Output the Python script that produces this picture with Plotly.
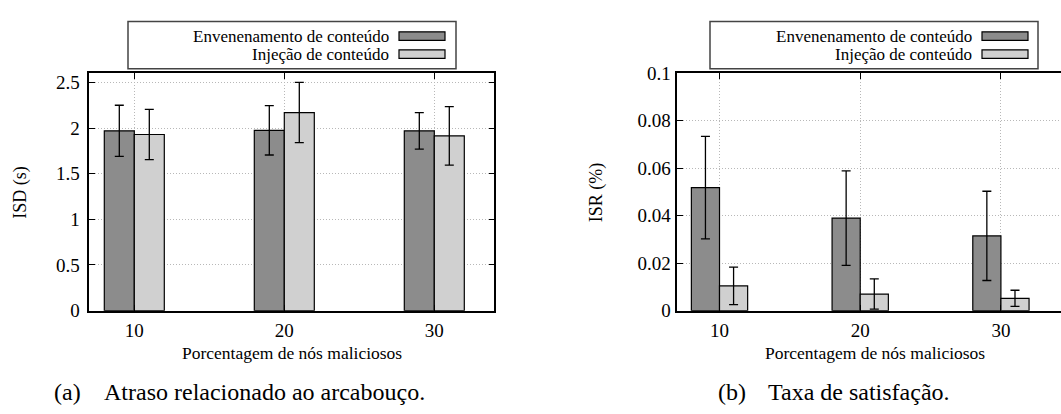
import plotly.graph_objects as go

# ---------------- data ----------------
categories = [10, 20, 30]
series_names = ["Envenenamento de conteúdo", "Injeção de conteúdo"]

isd_env = [1.97, 1.975, 1.97]
isd_env_err = [0.28, 0.27, 0.20]
isd_inj = [1.93, 2.17, 1.915]
isd_inj_err = [0.275, 0.33, 0.32]

isr_env = [0.0518, 0.039, 0.0315]
isr_env_err = [0.0216, 0.0199, 0.0188]
isr_inj = [0.0104, 0.007, 0.0052]
isr_inj_err = [0.0079, 0.0064, 0.0034]

x_title = "Porcentagem de nós maliciosos"
y_title_a = "ISD (s)"
y_title_b = "ISR (%)"
caption_a_tag, caption_a_text = "(a)", "Atraso relacionado ao arcabouço."
caption_b_tag, caption_b_text = "(b)", "Taxa de satisfação."

# ---------------- style ----------------
W, H = 1061, 414
FONT = "Liberation Serif"
DARK = "#8c8c8c"
LIGHT = "#d0d0d0"
GRID = "#b8b8b8"


def px(x):
    return x / W


def py(y):
    return 1 - y / H


fig = go.Figure()

for xa, ya, vals, errs in [
    ("x", "y", [isd_env, isd_inj], [isd_env_err, isd_inj_err]),
    ("x2", "y2", [isr_env, isr_inj], [isr_env_err, isr_inj_err]),
]:
    for name, v, e, col in zip(series_names, vals, errs, [DARK, LIGHT]):
        fig.add_trace(go.Bar(
            x=categories, y=v, name=name, xaxis=xa, yaxis=ya,
            marker=dict(color=col, line=dict(color="black", width=1.2)),
            error_y=dict(type="data", array=e, color="black",
                         thickness=1.3, width=4.5),
            showlegend=False,
        ))

axis_common = dict(
    showline=True, linecolor="black", linewidth=1.5,
    ticks="inside", ticklen=6, tickwidth=1, tickcolor="black",
    showgrid=True, gridcolor=GRID, griddash="1px,2px", gridwidth=1,
    zeroline=False,
    tickfont=dict(family=FONT, size=19, color="black"),
)

fig.update_layout(
    width=W, height=H,
    margin=dict(l=0, r=0, t=0, b=0),
    paper_bgcolor="white", plot_bgcolor="white",
    barmode="group", bargap=0.6, bargroupgap=0,
    font=dict(family=FONT, size=17, color="black"),
    xaxis=dict(domain=[px(89.3), px(494.3)], range=[7, 34], tickvals=categories,
               mirror="ticks", anchor="y", ticklabelstandoff=2, **axis_common),
    yaxis=dict(domain=[py(316.7), py(66.7)], range=[0, 2.6], dtick=0.5,
               mirror="ticks", anchor="x", ticklabelstandoff=4, **axis_common),
    xaxis2=dict(domain=[px(677.3), 1.0], range=[7, 34.27], tickvals=categories,
                mirror="ticks", anchor="y2", ticklabelstandoff=2, **axis_common),
    yaxis2=dict(domain=[py(316.7), py(66.7)], range=[0, 0.1], dtick=0.02,
                mirror=False, anchor="x2", ticklabelstandoff=1, **axis_common),
)

shapes = []
annotations = []

# legends (gnuplot style: text right-aligned, swatch on the right)
for box_l, box_r, sw_l, sw_r, txt_r in [(128, 456, 399, 445, 390),
                                        (710, 1038, 982, 1028, 973)]:
    shapes.append(dict(type="rect", xref="paper", yref="paper",
                       x0=px(box_l), x1=px(box_r), y0=py(62), y1=py(12),
                       line=dict(color="#444444", width=1.5), fillcolor="white"))
    for name, col, yc in zip(series_names, [DARK, LIGHT], [27.5, 46.5]):
        shapes.append(dict(type="rect", xref="paper", yref="paper",
                           x0=px(sw_l), x1=px(sw_r), y0=py(yc + 4.5), y1=py(yc - 4.5),
                           line=dict(color="black", width=1.2), fillcolor=col))
        annotations.append(dict(text=name, xref="paper", yref="paper",
                                x=px(txt_r), y=py(yc), xanchor="right", yanchor="middle",
                                showarrow=False, borderpad=0,
                                font=dict(family=FONT, size=17)))

# axis titles
for xc, txt in [(291.8, x_title), (874.6, x_title)]:
    annotations.append(dict(text=txt, xref="paper", yref="paper", x=px(xc), y=py(361),
                            xanchor="center", yanchor="middle", showarrow=False,
                            font=dict(family=FONT, size=17.5)))
for xc, txt in [(20.5, y_title_a), (596, y_title_b)]:
    annotations.append(dict(text=txt, xref="paper", yref="paper", x=px(xc), y=py(192),
                            xanchor="center", yanchor="middle", showarrow=False,
                            textangle=-90, font=dict(family=FONT, size=18)))

# captions
for xt, xs, tag, txt in [(53, 103, caption_a_tag, caption_a_text),
                         (717, 767, caption_b_tag, caption_b_text)]:
    annotations.append(dict(text=tag, xref="paper", yref="paper", x=px(xt), y=py(402),
                            xanchor="left", yanchor="middle", showarrow=False, borderpad=0,
                            font=dict(family=FONT, size=24)))
    annotations.append(dict(text=txt, xref="paper", yref="paper", x=px(xs), y=py(402),
                            xanchor="left", yanchor="middle", showarrow=False, borderpad=0,
                            font=dict(family=FONT, size=24)))

fig.update_layout(shapes=shapes, annotations=annotations)
fig.write_html("out.html",
               config={"displayModeBar": False},
               post_script="document.body.style.margin='0';document.body.style.overflow='hidden';")
